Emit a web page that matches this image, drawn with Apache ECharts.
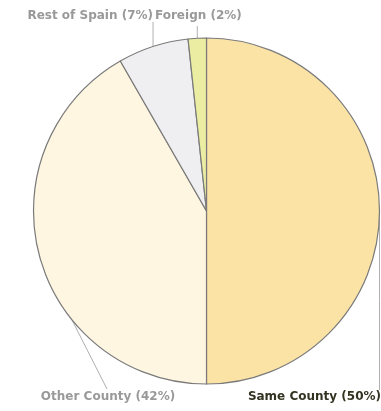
<!DOCTYPE html>
<html>
<head>
<meta charset="utf-8">
<script src="https://cdn.jsdelivr.net/npm/echarts@6/dist/echarts.min.js"></script>
<style>
html,body{margin:0;padding:0;background:#fff;}
#chart{width:381px;height:411px;}
</style>
</head>
<body>
<div id="chart"></div>
<script>
const categories = ['Same County', 'Other County', 'Rest of Spain', 'Foreign'];
const values = [50, 41.7, 6.6, 1.7];
const sliceColors = ['#FBE3A6', '#FFF6E2', '#EFEFF1', '#EBEEA2'];
const labelColors = ['#333322', '#999999', '#999999', '#999999'];

// label anchor positions (layout only)
const labelPos = [
  {x: 381, y: 397, align: 'right', endX: 379.5, endY: 390},
  {x: 108, y: 397, align: 'center', endX: 107, endY: 389},
  {x: 153, y: 16, align: 'right', endX: null, endY: 22},
  {x: 155, y: 16, align: 'left', endX: null, endY: 26}
];

const chart = echarts.init(document.getElementById('chart'), null, {renderer: 'canvas'});
chart.setOption({
  backgroundColor: '#ffffff',
  animation: false,
  series: [{
    type: 'pie',
    center: [206.5, 211],
    radius: [0, 173],
    startAngle: 90,
    clockwise: true,
    avoidLabelOverlap: false,
    data: categories.map((c, i) => ({
      name: c,
      value: values[i],
      itemStyle: {color: sliceColors[i]},
      label: {color: labelColors[i]}
    })),
    itemStyle: {borderColor: '#7a7a7a', borderWidth: 1.2},
    label: {
      show: true,
      formatter: p => p.name + ' (' + Math.round(p.percent) + '%)',
      fontFamily: 'Verdana, "DejaVu Sans", sans-serif',
      fontWeight: 'bold',
      fontSize: 12
    },
    labelLine: {show: true, length: 10, length2: 10, lineStyle: {color: '#b0b0b0', width: 1}},
    emphasis: {disabled: true}
  }]
});
chart.setOption({
  series: [{
    labelLayout: function (p) {
      const pos = labelPos[p.dataIndex];
      const s = p.labelLinePoints ? p.labelLinePoints[0] : [pos.x, pos.y];
      const ex = pos.endX == null ? s[0] : pos.endX;
      const e = [ex, pos.endY];
      return {
        x: pos.x, y: pos.y, align: pos.align, verticalAlign: 'middle',
        labelLinePoints: [s, [(s[0] + e[0]) / 2, (s[1] + e[1]) / 2], e]
      };
    }
  }]
});
</script>
</body>
</html>
